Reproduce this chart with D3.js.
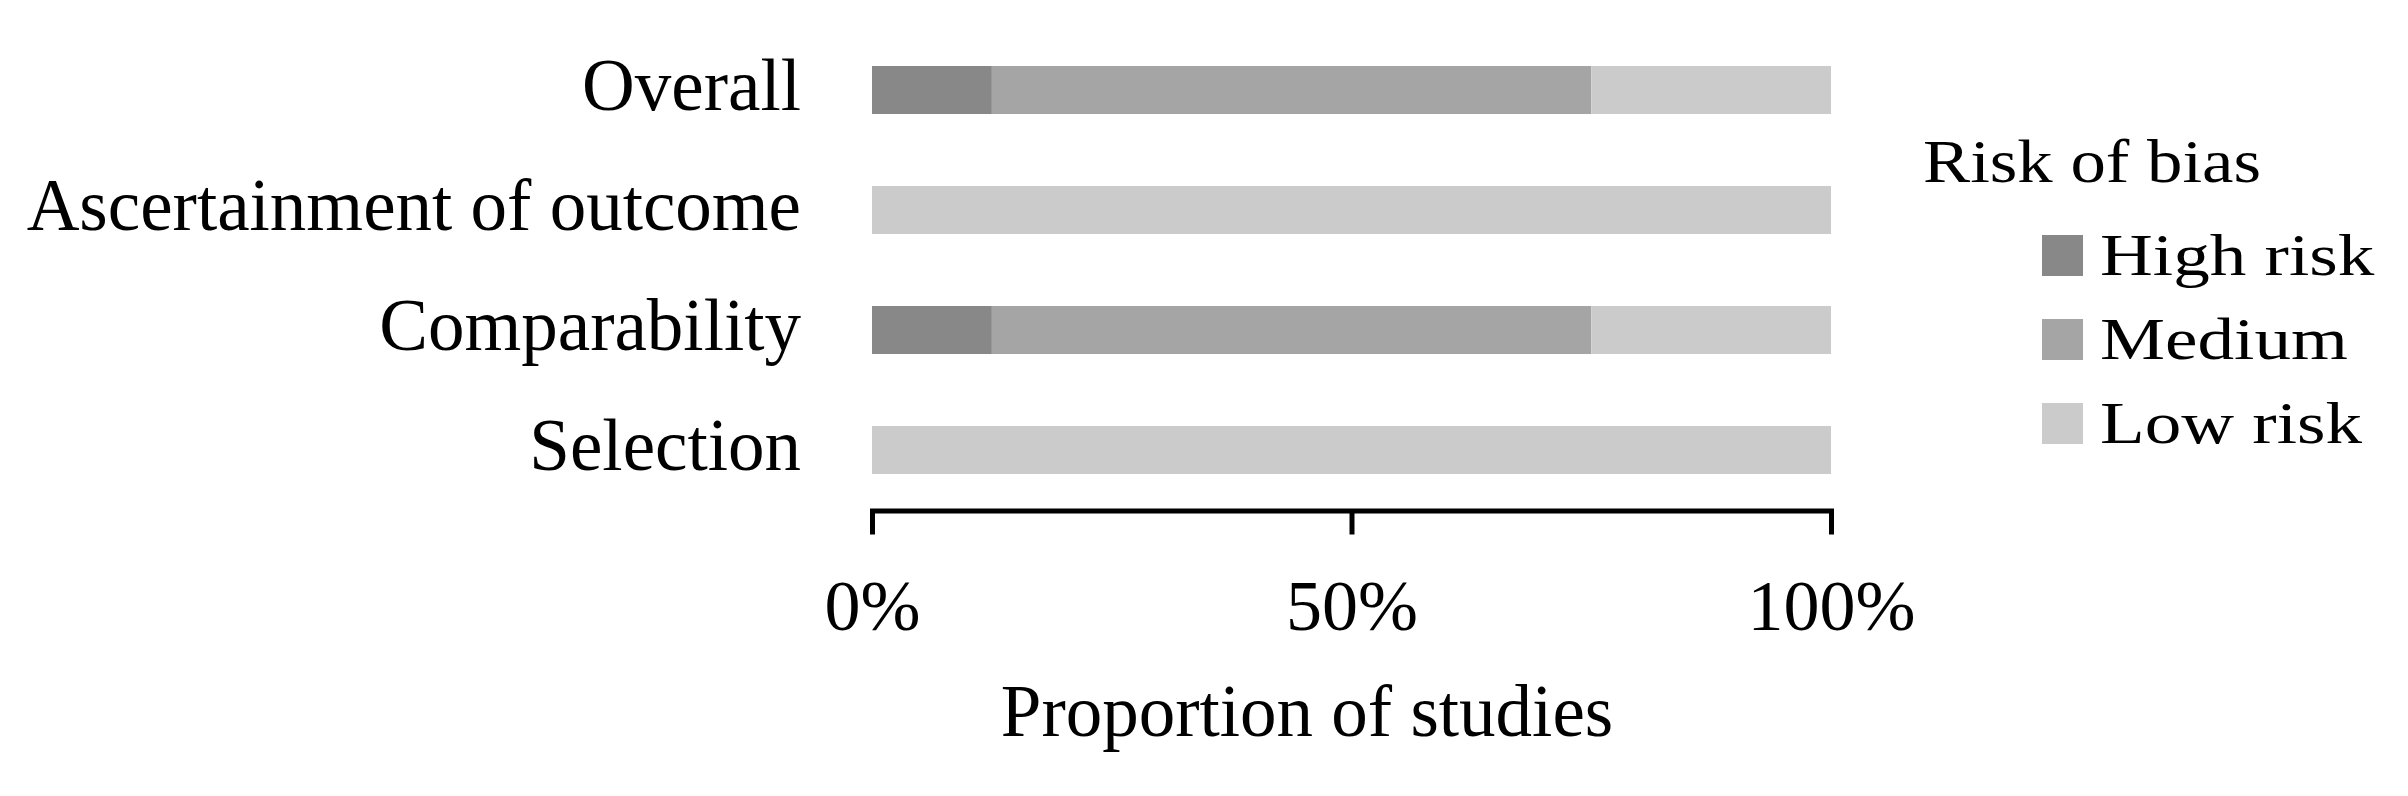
<!DOCTYPE html>
<html>
<head>
<meta charset="utf-8">
<script src="https://cdn.jsdelivr.net/npm/d3@7"></script>
<style>
  html, body { margin: 0; padding: 0; background: #ffffff; }
  svg { display: block; }
  text { font-family: "Liberation Serif", "Times New Roman", serif; fill: #000; }
</style>
</head>
<body>
<svg id="chart" width="2408" height="796"></svg>
<script>
// ---- data ----
const categories = ["Overall", "Ascertainment of outcome", "Comparability", "Selection"];
const seriesNames = ["High risk", "Medium", "Low risk"];
const highRisk = [12.5, 0, 12.5, 0];
const medium   = [62.5, 0, 62.5, 0];
const lowRisk  = [25, 100, 25, 100];
const tickValues = [0, 50, 100];
const tickLabels = ["0%", "50%", "100%"];
const colors = ["#888888", "#a5a5a5", "#cbcbcb"];
const legendTitle = "Risk of bias";
const xTitle = "Proportion of studies";

const rows = categories.map((c, i) => ({
  category: c,
  "High risk": highRisk[i],
  "Medium": medium[i],
  "Low risk": lowRisk[i]
}));

const svg = d3.select("#chart");

const x = d3.scaleLinear().domain([0, 100]).range([872, 1831]);
const y = d3.scaleBand().domain(categories).range([30, 510])
  .paddingInner(0.6).paddingOuter(0.3);
const color = d3.scaleOrdinal().domain(seriesNames).range(colors);

const stacked = d3.stack().keys(seriesNames)(rows);

svg.append("g").selectAll("g")
  .data(stacked).join("g")
  .attr("fill", d => color(d.key))
  .selectAll("rect")
  .data(d => d).join("rect")
  .attr("x", d => x(d[0]))
  .attr("y", d => y(d.data.category))
  .attr("width", d => Math.max(0, x(d[1]) - x(d[0])))
  .attr("height", y.bandwidth());

// category labels
svg.append("g").selectAll("text")
  .data(categories).join("text")
  .attr("x", 801)
  .attr("y", d => y(d) + y.bandwidth() / 2)
  .attr("dy", "0.27em")
  .attr("text-anchor", "end")
  .attr("font-size", 73)
  .text(d => d);

// x axis
const axisY = 510.5;
const xAxis = d3.axisBottom(x)
  .tickValues(tickValues)
  .tickFormat((d, i) => tickLabels[i])
  .tickSize(24)
  .tickSizeOuter(0);

const gx = svg.append("g")
  .attr("transform", `translate(0,${axisY})`)
  .call(xAxis);
gx.select(".domain").attr("stroke", "#000").attr("stroke-width", 5)
  .attr("stroke-linecap", "square");
gx.selectAll(".tick line").attr("stroke", "#000").attr("stroke-width", 5);
gx.selectAll(".tick text")
  .attr("y", 119.5).attr("dy", 0)
  .attr("font-size", 72)
  .attr("font-family", "Liberation Serif, serif")
  .attr("fill", "#000");

svg.append("text")
  .attr("x", 1307).attr("y", 736)
  .attr("text-anchor", "middle")
  .attr("font-size", 73)
  .text(xTitle);

// legend
const lg = svg.append("g");
lg.append("text")
  .attr("transform", "translate(1923,182) scale(1.16,1)")
  .attr("font-size", 61)
  .text(legendTitle);

const items = lg.selectAll("g.item").data(seriesNames).join("g")
  .attr("class", "item")
  .attr("transform", (d, i) => `translate(2042,${235 + i * 84})`);
items.append("rect")
  .attr("width", 41).attr("height", 41)
  .attr("fill", d => color(d));
items.append("text")
  .attr("transform", "translate(58,40) scale(1.24,1)")
  .attr("font-size", 59)
  .text(d => d);
</script>
</body>
</html>
